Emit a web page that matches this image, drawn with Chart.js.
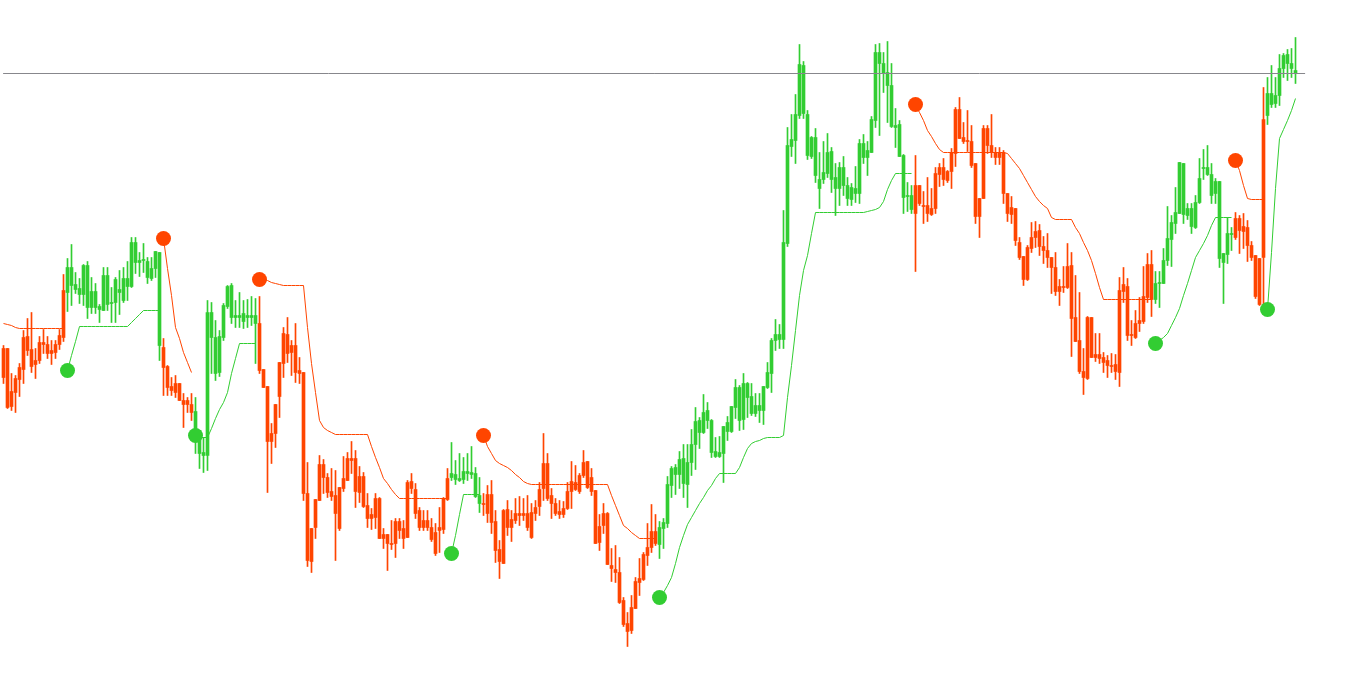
<!DOCTYPE html>
<html>
<head>
<meta charset="utf-8">
<title>SuperTrend</title>
<script src="https://cdn.jsdelivr.net/npm/chart.js@4.4.1/dist/chart.umd.min.js"></script>
<style>
  html, body { margin: 0; padding: 0; background: #fff; overflow: hidden; }
  #chart { display: block; }
</style>
</head>
<body>
<canvas id="chart" width="1349" height="682"></canvas>
<script>
  // price in points, one entry per bar
  const open = [
    352, 352, 294, 308, 321, 331, 364, 351, 336, 340, 358, 356,
    347, 348, 356, 363, 408, 433, 416, 412, 406, 435, 393, 409,
    394, 390, 425, 397, 398, 411, 400, 422, 414, 458, 438, 440,
    439, 422, 432, 448, 353, 334, 314, 308, 317, 300, 296, 296,
    289, 270, 245, 245, 388, 363, 328, 363, 394, 415, 383, 385,
    379, 385, 383, 385, 377, 331, 314, 259, 267, 304, 337, 366,
    348, 355, 330, 328, 207, 139, 173, 200, 236, 223, 209, 205,
    172, 212, 220, 242, 242, 208, 224, 195, 182, 183, 202, 162,
    166, 157, 157, 179, 172, 163, 212, 211, 190, 173, 180, 173,
    168, 170, 171, 201, 223, 226, 222, 221, 229, 226, 227, 205,
    197, 187, 206, 179, 151, 137, 191, 173, 180, 187, 185, 187,
    163, 187, 194, 212, 237, 205, 197, 186, 186, 192, 209, 218,
    209, 225, 239, 223, 210, 158, 175, 187, 135, 131, 128, 100,
    77, 70, 92, 118, 121, 145, 153, 169, 156, 172, 177, 215,
    233, 226, 242, 216, 238, 256, 268, 268, 290, 280, 249, 244,
    247, 269, 269, 293, 313, 281, 317, 304, 287, 295, 290, 313,
    327, 360, 366, 361, 457, 554, 560, 585, 635, 586, 544, 563,
    521, 521, 527, 549, 523, 512, 533, 515, 501, 507, 507, 557,
    543, 548, 580, 648, 637, 628, 615, 575, 576, 545, 504, 491,
    515, 497, 495, 495, 486, 492, 526, 533, 520, 529, 547, 591,
    563, 559, 559, 537, 484, 502, 572, 555, 548, 543, 548, 507,
    486, 492, 458, 444, 421, 452, 463, 470, 454, 450, 443, 433,
    409, 413, 413, 435, 383, 360, 329, 322, 383, 343, 346, 343,
    340, 335, 336, 328, 409, 414, 366, 363, 377, 379, 403, 436,
    401, 417, 417, 440, 461, 477, 487, 537, 485, 492, 473, 498,
    532, 533, 526, 507, 519, 447, 446, 467, 463, 482, 469, 473,
    455, 445, 442, 443, 585, 607, 597, 605, 632, 646, 637, 630
  ]
  const high = [
    355, 352, 327, 325, 337, 370, 382, 388, 352, 364, 371, 364,
    360, 360, 371, 426, 442, 456, 428, 422, 436, 439, 423, 417,
    396, 433, 433, 413, 423, 430, 433, 439, 463, 463, 448, 457,
    443, 443, 449, 448, 362, 335, 323, 325, 317, 307, 303, 307,
    303, 270, 263, 400, 398, 380, 370, 397, 415, 417, 400, 408,
    400, 401, 404, 402, 404, 331, 314, 277, 296, 338, 373, 383,
    360, 377, 343, 328, 238, 172, 201, 245, 241, 227, 232, 230,
    213, 244, 248, 259, 250, 234, 228, 207, 192, 207, 203, 172,
    166, 180, 182, 182, 180, 220, 227, 217, 193, 190, 190, 182,
    177, 193, 203, 232, 258, 240, 247, 243, 247, 254, 233, 223,
    207, 215, 220, 190, 160, 191, 200, 190, 202, 204, 202, 205,
    197, 200, 218, 267, 247, 212, 202, 200, 199, 218, 239, 235,
    227, 250, 239, 232, 210, 186, 197, 188, 152, 155, 143, 103,
    88, 105, 123, 142, 148, 177, 196, 186, 179, 182, 224, 234,
    236, 249, 256, 256, 271, 293, 283, 306, 298, 281, 263, 264,
    274, 284, 294, 321, 315, 327, 318, 317, 307, 307, 314, 338,
    362, 381, 376, 490, 573, 586, 606, 656, 639, 590, 564, 572,
    548, 559, 567, 553, 537, 538, 544, 523, 517, 534, 561, 566,
    559, 584, 656, 657, 648, 659, 637, 592, 580, 546, 518, 515,
    545, 515, 509, 523, 512, 533, 537, 542, 530, 552, 593, 603,
    578, 590, 575, 537, 502, 575, 575, 586, 553, 553, 550, 507,
    504, 492, 463, 444, 455, 478, 479, 476, 464, 467, 443, 448,
    421, 434, 457, 448, 425, 408, 352, 384, 383, 367, 367, 348,
    345, 347, 346, 423, 433, 422, 380, 390, 403, 434, 447, 450,
    429, 429, 452, 494, 485, 513, 538, 537, 497, 497, 505, 542,
    551, 555, 537, 522, 519, 447, 483, 473, 488, 485, 487, 480,
    459, 445, 442, 613, 623, 635, 623, 646, 647, 651, 652, 663
  ]
  const low = [
    317, 292, 290, 288, 304, 317, 345, 328, 322, 337, 347, 342,
    336, 342, 351, 359, 389, 395, 407, 397, 395, 382, 387, 387,
    378, 390, 390, 378, 378, 386, 398, 400, 413, 427, 424, 428,
    417, 420, 423, 340, 305, 305, 305, 303, 300, 273, 288, 280,
    247, 232, 228, 230, 327, 320, 324, 360, 392, 377, 373, 373,
    372, 373, 375, 337, 327, 313, 208, 237, 253, 283, 323, 338,
    325, 318, 317, 200, 134, 128, 162, 200, 207, 203, 200, 140,
    170, 209, 220, 227, 193, 198, 193, 173, 171, 172, 162, 152,
    130, 151, 143, 162, 152, 163, 207, 182, 170, 170, 170, 159,
    145, 148, 167, 200, 220, 216, 219, 217, 220, 222, 203, 188,
    185, 178, 167, 138, 122, 137, 165, 159, 177, 175, 180, 170,
    162, 180, 185, 200, 200, 182, 185, 182, 183, 191, 192, 210,
    207, 223, 212, 205, 157, 150, 167, 136, 119, 118, 97, 74,
    54, 67, 92, 105, 120, 135, 148, 155, 142, 152, 173, 203,
    206, 212, 203, 193, 225, 231, 252, 267, 272, 243, 243, 243,
    218, 260, 268, 282, 270, 271, 283, 285, 284, 278, 276, 312,
    308, 350, 352, 352, 454, 544, 537, 582, 582, 541, 542, 518,
    492, 517, 523, 508, 485, 495, 505, 495, 495, 498, 497, 537,
    525, 548, 573, 565, 608, 578, 573, 553, 544, 487, 489, 487,
    429, 495, 477, 479, 485, 487, 514, 515, 518, 512, 534, 562,
    557, 549, 533, 477, 463, 502, 547, 543, 536, 536, 497, 479,
    477, 455, 441, 415, 420, 448, 453, 445, 437, 433, 407, 405,
    395, 408, 412, 344, 359, 327, 306, 321, 343, 339, 337, 328,
    323, 328, 321, 314, 398, 360, 355, 362, 369, 377, 398, 384,
    397, 393, 417, 435, 434, 467, 487, 477, 481, 467, 472, 497,
    521, 525, 497, 497, 433, 397, 437, 450, 461, 447, 452, 439,
    440, 402, 395, 395, 576, 593, 593, 595, 623, 620, 623, 617
  ]
  const close = [
    323, 293, 309, 322, 333, 363, 350, 334, 340, 358, 356, 347,
    350, 356, 365, 410, 433, 415, 411, 406, 435, 393, 409, 393,
    391, 425, 396, 398, 421, 408, 422, 414, 458, 438, 440, 440,
    423, 432, 449, 355, 333, 313, 310, 317, 300, 296, 300, 288,
    263, 247, 248, 388, 363, 327, 364, 395, 414, 383, 385, 383,
    387, 383, 385, 377, 330, 313, 259, 267, 296, 338, 367, 347,
    355, 328, 327, 207, 140, 172, 201, 236, 223, 208, 204, 187,
    213, 222, 242, 240, 209, 224, 194, 182, 186, 202, 162, 166,
    157, 156, 179, 170, 162, 218, 219, 187, 173, 180, 173, 161,
    147, 173, 202, 222, 227, 221, 220, 229, 227, 228, 204, 197,
    196, 206, 178, 150, 139, 190, 173, 181, 187, 185, 187, 173,
    188, 193, 211, 237, 202, 197, 187, 189, 192, 209, 219, 211,
    225, 238, 213, 209, 157, 174, 187, 136, 132, 128, 98, 76,
    69, 93, 119, 122, 146, 153, 169, 157, 173, 178, 216, 232,
    226, 241, 217, 238, 256, 279, 280, 288, 280, 248, 244, 248,
    274, 278, 294, 313, 280, 317, 303, 287, 295, 290, 314, 328,
    360, 366, 361, 458, 555, 561, 586, 636, 587, 545, 563, 525,
    512, 528, 548, 521, 512, 533, 515, 502, 513, 512, 557, 543,
    550, 581, 648, 637, 627, 615, 574, 573, 544, 503, 504, 505,
    487, 515, 494, 487, 492, 527, 533, 521, 529, 548, 591, 562,
    559, 560, 535, 484, 502, 572, 555, 548, 543, 548, 507, 487,
    493, 460, 443, 421, 453, 463, 469, 454, 450, 443, 433, 409,
    414, 414, 434, 382, 359, 329, 323, 383, 343, 346, 342, 338,
    335, 334, 329, 410, 416, 365, 365, 377, 380, 404, 436, 401,
    417, 418, 440, 462, 478, 488, 538, 486, 492, 474, 498, 522,
    533, 526, 505, 519, 442, 438, 467, 466, 482, 470, 474, 455,
    443, 404, 396, 581, 607, 596, 605, 632, 645, 637, 632, 627
  ]

  // trend stop line, stored as [first bar, values]
  const sellBandRuns = [
    [0, [377, 376, 375, 373, 372, 372, 372, 372, 372, 372, 372, 372, 372, 372, 372, 372]],
    [40, [462, 432, 405, 373, 362, 348, 338, 328]],
    [64, [421, 421, 420, 418, 417, 416, 415, 415, 415, 415, 415, 415,
          373, 337, 308, 280, 273, 270, 268,
          266, 266, 266, 266, 266, 266, 266, 266, 266,
          254, 243, 233, 222, 217, 211, 206,
          202, 202, 202, 202, 202, 202, 202, 202, 202, 202, 202, 202, 202]],
    [120, [265, 254, 247, 240, 237, 235, 233, 230, 226, 223, 219, 217,
           216, 216, 216, 216, 216, 216, 216, 216, 216, 216,
           216, 216, 216, 216, 216, 216, 216, 216, 216, 216,
           205, 195, 185, 175, 172, 168, 165, 162, 162, 162, 162, 162]],
    [228, [596, 588, 580, 570, 564, 557, 551,
           548, 548, 548, 548, 548, 548, 548, 548, 548, 548, 548, 548, 548, 548, 548, 548,
           547, 542, 537, 532, 525, 518, 511, 504, 499, 495, 492, 483,
           481, 481, 481, 481, 481, 473, 467, 458, 450, 440, 427, 413,
           401, 401, 401, 401, 401, 401, 401, 401, 401, 401, 401, 401, 401]],
    [308, [540, 530, 515, 502, 501, 501, 501, 501]]
  ]
  const buyBandRuns = [
    [16, [330, 345, 359, 374, 374, 374, 374, 374, 374, 374, 374, 374, 374, 374, 374, 374,
          378, 382, 386, 390, 390, 390, 390, 390]],
    [48, [265, 263, 263, 263, 272, 282, 291, 298, 308, 327, 342, 357, 357, 357, 357, 357]],
    [112, [147, 165, 186, 206, 206, 206, 206, 206]],
    [164, [103, 108, 115, 123, 137, 153, 165, 176, 183, 190, 197, 203, 210, 215, 222,
           227, 227, 227, 227, 227, 233, 243, 252, 257, 259, 260, 262,
           263, 263, 263, 263, 265, 303, 335, 370, 405, 430, 445, 467,
           488, 488, 488, 488, 488, 488, 488, 488, 488, 488, 488, 488, 488,
           489, 490, 491, 493, 499, 511, 520, 527, 527, 527, 527, 527]],
    [288, [357, 360, 363, 367, 375, 383, 392, 405, 417, 430, 443, 450, 457, 465, 475,
           483, 483, 483, 483, 483]],
    [316, [391, 448, 512, 562, 571, 580, 590, 602]]
  ]

  const priceLevel = 627

  const upColor = 'rgb(50, 205, 50)'
  const downColor = 'rgb(255, 69, 0)'
  const levelColor = 'rgb(135, 135, 140)'

  const buildBand = runs => {
    const band = new Array(open.length).fill(null)
    runs.forEach(([start, values]) => {
      values.forEach((v, i) => { band[start + i] = v })
    })
    return band
  }
  const upperBand = buildBand(sellBandRuns)
  const lowerBand = buildBand(buyBandRuns)

  // bar colour follows the trend, not the bar direction
  const barColors = lowerBand.map(v => v !== null ? upColor : downColor)

  const wicks = open.map((o, i) => ({x: i, y: [low[i], high[i]]}))
  const bodies = open.map((o, i) => ({x: i, y: [Math.min(o, close[i]), Math.max(o, close[i])]}))
  const toPoints = band => band.map((v, i) => ({x: i, y: v}))

  // a dot marks the first bar of every trend run
  const sellDots = sellBandRuns.filter(r => r[0] > 0).map(([s, vals]) => ({x: s, y: vals[0]}))
  const buyDots = buyBandRuns.filter(r => r[0] > 0).map(([s, vals]) => ({x: s, y: vals[0]}))

  const chart = new Chart(document.getElementById('chart').getContext('2d'), {
    type: 'bar',
    data: {
      datasets: [
        {
          type: 'line', label: 'sell', data: sellDots, order: 0,
          showLine: false, pointRadius: 7.5, pointBorderWidth: 0,
          pointBackgroundColor: downColor
        },
        {
          type: 'line', label: 'buy', data: buyDots, order: 0,
          showLine: false, pointRadius: 7.5, pointBorderWidth: 0,
          pointBackgroundColor: upColor
        },
        {
          type: 'line', label: 'upper', data: toPoints(upperBand), order: 1,
          borderColor: downColor, borderWidth: 1, pointRadius: 0, tension: 0
        },
        {
          type: 'line', label: 'lower', data: toPoints(lowerBand), order: 1,
          borderColor: upColor, borderWidth: 1, pointRadius: 0, tension: 0
        },
        {
          type: 'line', label: 'level', order: 1,
          data: [{x: -0.1, y: priceLevel}, {x: 325.4, y: priceLevel}],
          borderColor: levelColor, borderWidth: 1, pointRadius: 0
        },
        {
          label: 'body', data: bodies, order: 2, grouped: false,
          barThickness: 3, minBarLength: 1, backgroundColor: barColors, borderWidth: 0
        },
        {
          label: 'wick', data: wicks, order: 3, grouped: false,
          barThickness: 1, minBarLength: 1, backgroundColor: barColors, borderWidth: 0
        }
      ]
    },
    options: {
      responsive: false,
      animation: false,
      devicePixelRatio: 1,
      events: [],
      layout: { padding: 0, autoPadding: false },
      plugins: {
        legend: { display: false },
        tooltip: { enabled: false }
      },
      scales: {
        x: { type: 'linear', min: -0.875, max: 336.375, offset: false, display: false },
        y: { type: 'linear', min: 18.5, max: 700.5, display: false }
      }
    }
  });
  chart.update()
</script>
</body>
</html>
